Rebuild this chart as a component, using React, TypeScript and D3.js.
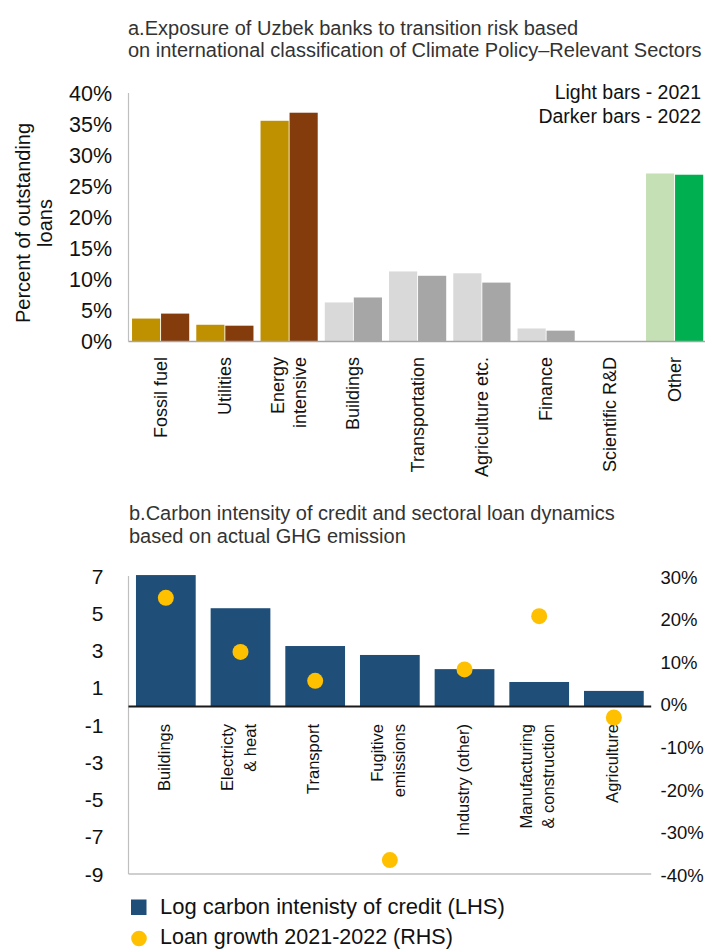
import React from "react";
import * as d3 from "d3";

// ---------- Data ----------
const topCategories = [
  "Fossil fuel",
  "Utilities",
  "Energy\nintensive",
  "Buildings",
  "Transportation",
  "Agriculture etc.",
  "Finance",
  "Scientific R&D",
  "Other",
];
const years = ["2021", "2022"];
const share2021 = [3.7, 2.7, 35.6, 6.3, 11.3, 11.0, 2.1, 0, 27.1];
const share2022 = [4.5, 2.55, 36.9, 7.1, 10.6, 9.5, 1.75, 0, 26.9];
const topTicks = [0, 5, 10, 15, 20, 25, 30, 35, 40];

const bottomCategories = [
  "Buildings",
  "Electricty\n& heat",
  "Transport",
  "Fugitive\nemissions",
  "Industry (other)",
  "Manufacturing\n& construction",
  "Agriculture",
];
const logIntensity = [7.05, 5.27, 3.24, 2.76, 2.0, 1.31, 0.83];
const loanGrowth = [25.1, 12.4, 5.6, -36.5, 8.3, 20.8, -3.0];
const leftTicks = [7, 5, 3, 1, -1, -3, -5, -7, -9];
const rightTicks = [30, 20, 10, 0, -10, -20, -30, -40];

// ---------- Styles ----------
const colors2021 = ["#BF9000", "#BF9000", "#BF9000", "#D9D9D9", "#D9D9D9", "#D9D9D9", "#D9D9D9", "#D9D9D9", "#C5E0B4"];
const colors2022 = ["#843C0C", "#843C0C", "#843C0C", "#A6A6A6", "#A6A6A6", "#A6A6A6", "#A6A6A6", "#A6A6A6", "#00B050"];
const barBlue = "#1F4E79";
const dotYellow = "#FFC000";
const FONT = "'Liberation Sans', Arial, sans-serif";

export default function App() {
  // Top chart scales
  const x0 = d3
    .scaleBand<string>()
    .domain(topCategories)
    .range([128.5, 128.5 + 9 * 64.25])
    .paddingInner(0.11)
    .paddingOuter(0.055);
  const x1 = d3.scaleBand<string>().domain(years).range([0, x0.bandwidth()]).paddingInner(0.03);
  const yTop = d3.scaleLinear().domain([0, 40]).range([341.5, 93.5]);

  // Bottom chart scales
  const xb = d3
    .scaleBand<string>()
    .domain(bottomCategories)
    .range([128.5, 651.2])
    .paddingInner(0.2)
    .paddingOuter(0.1);
  const yL = d3.scaleLinear().domain([-9, 7]).range([874, 576]);
  const yR = d3.scaleLinear().domain([-40, 30]).range([875, 577]);

  const topSeries = [share2021, share2022];
  const topColors = [colors2021, colors2022];

  return (
    <svg
      width={705}
      height={949}
      style={{ position: "absolute", left: 0, top: 0, background: "#fff" }}
      fontFamily={FONT}
    >
      {/* ---------- Top chart ---------- */}
      <text x={128} y={35} fontSize={20} fill="#333">
        a.Exposure of Uzbek banks to transition risk based
      </text>
      <text x={128} y={57} fontSize={20} fill="#333">
        on international classification of Climate Policy–Relevant Sectors
      </text>

      <text x={701} y={98.5} fontSize={19.5} textAnchor="end" fill="#111">
        Light bars - 2021
      </text>
      <text x={701} y={122.5} fontSize={19.5} textAnchor="end" fill="#111">
        Darker bars - 2022
      </text>

      {/* y axis title */}
      <text transform="translate(30,223) rotate(-90)" textAnchor="middle" fontSize={20} fill="#111">
        Percent of outstanding
      </text>
      <text transform="translate(52,223) rotate(-90)" textAnchor="middle" fontSize={20} fill="#111">
        loans
      </text>

      {topTicks.map((t) => (
        <text key={t} x={112} y={yTop(t)} dy="0.36em" textAnchor="end" fontSize={21.5} fill="#111">
          {t}%
        </text>
      ))}

      {topCategories.map((c, i) =>
        years.map((yr, k) => {
          const v = topSeries[k][i];
          if (v <= 0) return null;
          return (
            <rect
              key={c + yr}
              x={(x0(c) as number) + (x1(yr) as number)}
              y={yTop(v)}
              width={x1.bandwidth()}
              height={yTop(0) - yTop(v)}
              fill={topColors[k][i]}
            />
          );
        })
      )}

      <line x1={128.5} x2={128.5} y1={93} y2={341.5} stroke="#BFBFBF" strokeWidth={1.2} />
      <line x1={128.5} x2={705} y1={341.5} y2={341.5} stroke="#A6A6A6" strokeWidth={1.5} />

      {topCategories.map((c) => {
        const lines = c.split("\n");
        const cx = (x0(c) as number) + x0.bandwidth() / 2;
        const spacing = 22;
        return lines.map((ln, j) => {
          const bx = cx + 6 + (j - (lines.length - 1) / 2) * spacing;
          return (
            <text
              key={c + j}
              transform={`translate(${bx},357) rotate(-90)`}
              textAnchor="end"
              fontSize={18}
              fill="#111"
            >
              {ln}
            </text>
          );
        });
      })}

      {/* ---------- Bottom chart ---------- */}
      <text x={129} y={520} fontSize={20} fill="#333">
        b.Carbon intensity of credit and sectoral loan dynamics
      </text>
      <text x={129} y={542.5} fontSize={20} fill="#333">
        based on actual GHG emission
      </text>

      {leftTicks.map((t) => (
        <text key={t} x={103.5} y={yL(t)} dy="0.36em" textAnchor="end" fontSize={21} fill="#111">
          {t}
        </text>
      ))}
      {rightTicks.map((t) => (
        <text key={t} x={660.5} y={yR(t)} dy="0.36em" textAnchor="start" fontSize={18.5} fill="#111">
          {t}%
        </text>
      ))}

      {bottomCategories.map((c, i) => {
        const v = logIntensity[i];
        return (
          <rect
            key={c}
            x={xb(c) as number}
            y={yL(Math.max(0, v))}
            width={xb.bandwidth()}
            height={Math.abs(yL(v) - yL(0))}
            fill={barBlue}
          />
        );
      })}

      <line x1={128.5} x2={128.5} y1={576} y2={874} stroke="#BFBFBF" strokeWidth={1.2} />
      <line x1={128.5} x2={651.2} y1={874} y2={874} stroke="#BFBFBF" strokeWidth={1.5} />
      <line x1={128.5} x2={651.2} y1={yL(0)} y2={yL(0)} stroke="#1a1a1a" strokeWidth={2} />

      {bottomCategories.map((c) => {
        const lines = c.split("\n");
        const cx = (xb(c) as number) + xb.bandwidth() / 2;
        const spacing = 22.5;
        return lines.map((ln, j) => {
          const bx = cx + 4 + (j - (lines.length - 1) / 2) * spacing;
          return (
            <text
              key={c + j}
              transform={`translate(${bx},724) rotate(-90)`}
              textAnchor="end"
              fontSize={16.5}
              fill="#111"
            >
              {ln}
            </text>
          );
        });
      })}

      {bottomCategories.map((c, i) => (
        <circle
          key={c + "dot"}
          cx={(xb(c) as number) + xb.bandwidth() / 2}
          cy={yR(loanGrowth[i])}
          r={8}
          fill={dotYellow}
        />
      ))}

      {/* legend */}
      <rect x={131} y={899.5} width={15.5} height={15.5} fill={barBlue} />
      <text x={160} y={913.5} fontSize={22} fill="#111">
        Log carbon intenisty of credit (LHS)
      </text>
      <circle cx={139} cy={938.5} r={7.8} fill={dotYellow} />
      <text x={160} y={944} fontSize={21.5} fill="#111">
        Loan growth 2021-2022 (RHS)
      </text>
    </svg>
  );
}
